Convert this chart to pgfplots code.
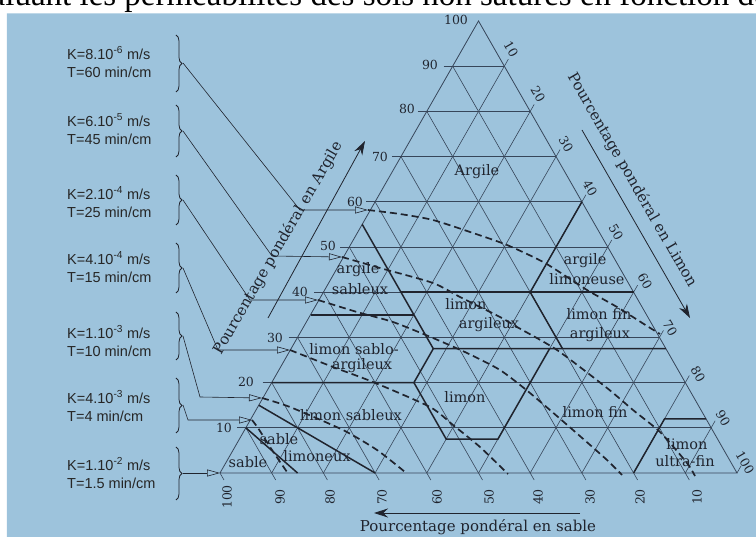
\documentclass[border=0pt]{standalone}
\usepackage{pgfplots}
\pgfplotsset{compat=1.18}
\usepackage{fontspec}
\setmainfont{Liberation Serif}
\newfontfamily\sans{Liberation Sans}
\newfontfamily\hand{DejaVu Serif}
\usetikzlibrary{arrows.meta,decorations.pathreplacing}
\definecolor{bg}{RGB}{157,195,220}
\definecolor{ink}{RGB}{32,36,46}
\definecolor{gridc}{RGB}{55,70,90}
\tikzset{
  gl/.style={mark=none, draw=gridc, line width=0.6pt},
  bd/.style={mark=none, draw=ink, line width=1.5pt},
  ds/.style={mark=none, draw=ink, line width=1.7pt, dash pattern=on 7pt off 4pt, smooth, tension=0.4},
  ld/.style={mark=none, draw=ink, line width=0.6pt},
  lab/.style={font=\hand\fontsize{14.5}{15}\selectfont, text=ink, anchor=base, inner sep=0pt},
  num/.style={font=\hand\fontsize{12.5}{12.5}\selectfont, text=ink, inner sep=0pt},
  ttl/.style={font=\hand\fontsize{15}{15}\selectfont, text=ink, inner sep=0pt},
  kt/.style={font=\sans\fontsize{14.5}{18}\selectfont, text=black!85, align=left, anchor=west, inner sep=0pt},
  opa/.style={-{Triangle[open,length=13pt,width=7pt]}},
  fla/.style={-{Stealth[length=14pt,width=9pt]}},
}
\begin{document}
\begin{tikzpicture}
\useasboundingbox (0,0) rectangle (756pt,537pt);
\clip (0,0) rectangle (756pt,537pt);
\begin{axis}[
  at={(0pt,0pt)}, anchor=south west,
  scale only axis, width=756pt, height=537pt,
  xmin=0, xmax=756, ymin=0, ymax=537, y dir=reverse,
  hide axis, clip=false,
]
% page strip above the figure
\node[anchor=base west, font=\fontsize{33}{33}\selectfont] at (axis cs:-44,6) {évaluant les perméabilités des sols non saturés en fonction de leur texture};
\addplot[fill=bg, draw=none] coordinates {(7,13.5) (760,13.5) (760,540) (7,540) (7,13.5)};

% grid: constant clay
\addplot[gl] coordinates {(236.85,427.8) (711.15,427.8)};
\addplot[gl] coordinates {(262.7,382.6) (685.3,382.6)};
\addplot[gl] coordinates {(288.55,337.4) (659.45,337.4)};
\addplot[gl] coordinates {(314.4,292.2) (633.6,292.2)};
\addplot[gl] coordinates {(340.25,247) (607.75,247)};
\addplot[gl] coordinates {(366.1,201.8) (581.9,201.8)};
\addplot[gl] coordinates {(391.95,156.6) (556.05,156.6)};
\addplot[gl] coordinates {(417.8,111.4) (530.2,111.4)};
\addplot[gl] coordinates {(443.65,66.2) (504.35,66.2)};
% grid: constant silt
\addplot[gl] coordinates {(271.7,473) (508.35,59.2)};
\addplot[gl] coordinates {(323.4,473) (534.2,104.4)};
\addplot[gl] coordinates {(375.1,473) (560.05,149.6)};
\addplot[gl] coordinates {(426.8,473) (585.9,194.8)};
\addplot[gl] coordinates {(478.5,473) (611.75,240)};
\addplot[gl] coordinates {(530.2,473) (637.6,285.2)};
\addplot[gl] coordinates {(581.9,473) (663.45,330.4)};
\addplot[gl] coordinates {(633.6,473) (689.3,375.6)};
\addplot[gl] coordinates {(685.3,473) (715.15,420.8)};
% grid: constant sand
\addplot[gl] coordinates {(452.65,66.2) (689.3,480)};
\addplot[gl] coordinates {(426.8,111.4) (637.6,480)};
\addplot[gl] coordinates {(400.95,156.6) (585.9,480)};
\addplot[gl] coordinates {(375.1,201.8) (534.2,480)};
\addplot[gl] coordinates {(349.25,247) (482.5,480)};
\addplot[gl] coordinates {(323.4,292.2) (430.8,480)};
\addplot[gl] coordinates {(297.55,337.4) (379.1,480)};
\addplot[gl] coordinates {(271.7,382.6) (327.4,480)};
\addplot[gl] coordinates {(245.85,427.8) (275.7,480)};
% triangle
\addplot[gl, line width=0.8pt] coordinates {(220,473) (478.5,21) (737,473) (220,473)};
\addplot[gl] coordinates {(220,473) (224,480)};
\addplot[gl] coordinates {(737,473) (741,466)};

% texture class boundaries
\addplot[bd] coordinates {(245.85,427.8) (297.55,473)};
\addplot[bd] coordinates {(258.8,405.2) (375.1,473)};
\addplot[bd] coordinates {(271.7,382.6) (413.9,382.6) (433.3,348.7) (665.9,348.7)};
\addplot[bd] coordinates {(413.9,382.6) (446.2,439.1) (497.9,439.1) (549.6,348.7)};
\addplot[bd] coordinates {(362.2,224.4) (433.3,348.7)};
\addplot[bd] coordinates {(310.5,314.8) (413.9,314.8)};
\addplot[bd] coordinates {(400.95,292.2) (633.6,292.2)};
\addplot[bd] coordinates {(562.5,348.7) (530.2,292.2) (581.9,201.8)};
\addplot[bd] coordinates {(633.6,473) (664.6,418.8) (706,418.8)};

% iso-permeability curves
\addplot[ds] coordinates {(368,210) (400,214) (433,220) (473,233) (507,245) (545,263) (587,290) (617,307) (647,326) (660,334)};
\addplot[ds] coordinates {(342,257) (380,268) (433,283) (460,297) (500,317) (517,327) (557,350) (607,388) (633,410) (660,432) (687,463) (695,476)};
\addplot[ds] coordinates {(318,300) (357,312) (393,322) (433,338) (467,353) (500,370) (530,393) (573,430) (607,460) (622,475)};
\addplot[ds] coordinates {(290,350) (333,367) (373,382) (430,407) (453,425) (480,447) (508,474)};
\addplot[ds] coordinates {(262,398) (290,407) (343,430) (377,450) (405,472)};
\addplot[ds] coordinates {(252,420) (258,428) (272,450) (287,472)};

% braces and leaders
\addplot[ld, line width=0.8pt, decorate, decoration={brace, amplitude=6pt}] coordinates {(176,35) (176,92)};
\addplot[ld, line width=0.8pt, decorate, decoration={brace, amplitude=6pt}] coordinates {(176,105) (176,157)};
\addplot[ld, line width=0.8pt, decorate, decoration={brace, amplitude=6pt}] coordinates {(176,175) (176,225)};
\addplot[ld, line width=0.8pt, decorate, decoration={brace, amplitude=6pt}] coordinates {(176,243) (176,293)};
\addplot[ld, line width=0.8pt, decorate, decoration={brace, amplitude=6pt}] coordinates {(176,312) (176,360)};
\addplot[ld, line width=0.8pt, decorate, decoration={brace, amplitude=6pt}] coordinates {(176,378) (176,433)};
\addplot[ld, line width=0.8pt, decorate, decoration={brace, amplitude=6pt}] coordinates {(176,447) (176,500)};
\addplot[ld, opa] coordinates {(183,63) (300,210) (368,210)};
\addplot[ld, opa] coordinates {(183,131) (272,256) (342,257)};
\addplot[ld, opa] coordinates {(183,200) (250,300) (318,300)};
\addplot[ld, opa] coordinates {(183,268) (218,350) (290,350)};
\addplot[ld, opa] coordinates {(183,336) (200,397) (262,398)};
\addplot[ld, opa] coordinates {(183,405) (188,420) (252,420)};
\addplot[ld, opa] coordinates {(183,473) (220,473)};

% axis arrows
\addplot[ld, line width=0.8pt, fla] coordinates {(268,318) (365,141)};
\addplot[ld, line width=0.8pt, fla] coordinates {(582,130) (690,318)};
\addplot[ld, line width=0.8pt, fla] coordinates {(580,513) (374,513)};

% permeability classes
\node[kt] at (axis cs:67,62) {K=8.10\textsuperscript{-6} m/s\\T=60 min/cm};
\node[kt] at (axis cs:67,129) {K=6.10\textsuperscript{-5} m/s\\T=45 min/cm};
\node[kt] at (axis cs:67,202) {K=2.10\textsuperscript{-4} m/s\\T=25 min/cm};
\node[kt] at (axis cs:67,267) {K=4.10\textsuperscript{-4} m/s\\T=15 min/cm};
\node[kt] at (axis cs:67,341) {K=1.10\textsuperscript{-3} m/s\\T=10 min/cm};
\node[kt] at (axis cs:67,406) {K=4.10\textsuperscript{-3} m/s\\T=4 min/cm};
\node[kt] at (axis cs:67,473) {K=1.10\textsuperscript{-2} m/s\\T=1.5 min/cm};

% class names
\node[lab] at (axis cs:477,176) {Argile};
\node[lab] at (axis cs:358,274) {argile};
\node[lab] at (axis cs:360,295) {sableux};
\node[lab] at (axis cs:354,355) {limon sablo-};
\node[lab] at (axis cs:362,370) {argileux};
\node[lab] at (axis cs:351,421) {limon sableux};
\node[lab] at (axis cs:279,445) {sable};
\node[lab] at (axis cs:317,462) {limoneux};
\node[lab] at (axis cs:248,468) {sable};
\node[lab] at (axis cs:466,310) {limon};
\node[lab] at (axis cs:489,329) {argileux};
\node[lab] at (axis cs:465,403) {limon};
\node[lab] at (axis cs:585,265) {argile};
\node[lab] at (axis cs:587,285) {limoneuse};
\node[lab] at (axis cs:599,320) {limon fin};
\node[lab] at (axis cs:600,339) {argileux};
\node[lab] at (axis cs:595,418) {limon fin};
\node[lab] at (axis cs:687,450) {limon};
\node[lab] at (axis cs:685,467) {ultra-fin};

% scale numbers
\node[num] at (axis cs:224,428) {10};
\node[num] at (axis cs:246,382) {20};
\node[num] at (axis cs:275,338) {30};
\node[num] at (axis cs:300,292) {40};
\node[num] at (axis cs:328,246) {50};
\node[num] at (axis cs:355,202) {60};
\node[num] at (axis cs:380,157) {70};
\node[num] at (axis cs:407,109) {80};
\node[num] at (axis cs:430,65) {90};
\node[num] at (axis cs:456,20) {100};
\node[num, rotate=-60] at (axis cs:511,49) {10};
\node[num, rotate=-60] at (axis cs:538,94) {20};
\node[num, rotate=-60] at (axis cs:566,144) {30};
\node[num, rotate=-60] at (axis cs:590,188) {40};
\node[num, rotate=-60] at (axis cs:616,232) {50};
\node[num, rotate=-60] at (axis cs:645,281) {60};
\node[num, rotate=-60] at (axis cs:670,328) {70};
\node[num, rotate=-60] at (axis cs:698,374) {80};
\node[num, rotate=-60] at (axis cs:723,418) {90};
\node[num, rotate=-60] at (axis cs:745,463) {100};
\node[num, rotate=90] at (axis cs:227,497) {100};
\node[num, rotate=90] at (axis cs:280,497) {90};
\node[num, rotate=90] at (axis cs:330,497) {80};
\node[num, rotate=90] at (axis cs:382,497) {70};
\node[num, rotate=90] at (axis cs:437,497) {60};
\node[num, rotate=90] at (axis cs:489,497) {50};
\node[num, rotate=90] at (axis cs:538,497) {40};
\node[num, rotate=90] at (axis cs:590,497) {30};
\node[num, rotate=90] at (axis cs:640,497) {20};
\node[num, rotate=90] at (axis cs:697,497) {10};

% axis titles
\node[ttl, rotate=60] at (axis cs:278,248) {Pourcentage pondéral en Argile};
\node[ttl, rotate=-60] at (axis cs:632,180) {Pourcentage pondéral en Limon};
\node[ttl] at (axis cs:478,527) {Pourcentage pondéral en sable};
\end{axis}
\end{tikzpicture}
\end{document}
